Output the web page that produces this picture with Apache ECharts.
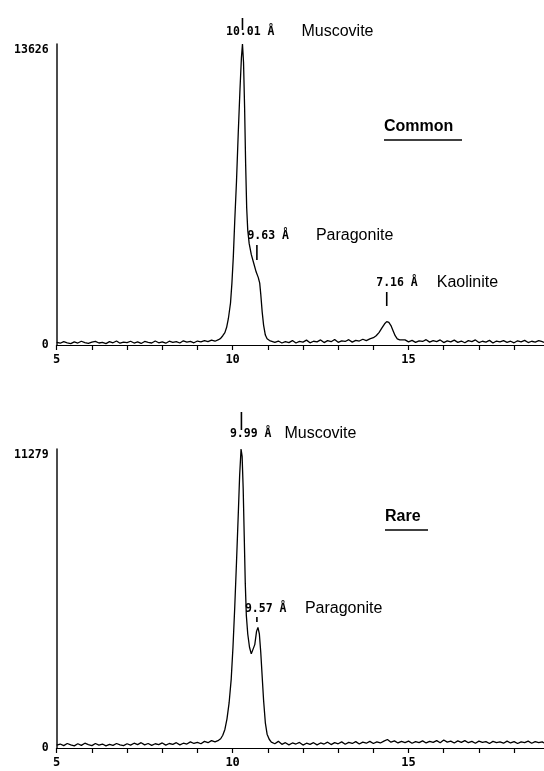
<!DOCTYPE html>
<html><head><meta charset="utf-8">
<script src="https://cdn.jsdelivr.net/npm/echarts@6/dist/echarts.min.js"></script>
<style>html,body{margin:0;padding:0;background:#fff}#c{width:544px;height:771px}</style>
</head><body><div id="c"></div>
<script>
// ---- data ----
const xLabelValues = [5, 10, 15];
const xMin = 5, xMax = 18.85;
const commonMax = 13626;
const rareMax = 11279;
const panelTitles = ['Common', 'Rare'];

// Common sample: [2theta, counts]
const commonTrace = [
[5.0,120],[5.1,80],[5.2,150],[5.3,100],[5.4,60],[5.5,140],[5.6,90],[5.7,170],[5.8,110],[5.9,70],
[6.0,130],[6.1,160],[6.2,90],[6.3,120],[6.4,60],[6.5,150],[6.6,100],[6.7,180],[6.8,80],[6.9,130],
[7.0,110],[7.1,170],[7.2,90],[7.3,140],[7.4,70],[7.5,160],[7.6,120],[7.7,90],[7.8,180],[7.9,100],
[8.0,140],[8.1,80],[8.2,170],[8.3,120],[8.4,150],[8.5,90],[8.6,190],[8.7,130],[8.8,160],[8.9,100],
[9.0,180],[9.1,140],[9.2,200],[9.3,150],[9.4,220],[9.5,170],[9.6,240],[9.66,300],[9.72,420],[9.78,560],
[9.83,800],[9.88,1200],[9.94,1900],[9.98,2800],[10.02,4000],[10.06,5600],[10.11,7400],[10.16,9600],[10.21,11600],[10.25,13000],
[10.28,13626],[10.31,12800],[10.34,10800],[10.37,8200],[10.40,6200],[10.43,5200],[10.47,4600],[10.53,4100],[10.60,3700],[10.67,3300],
[10.73,3050],[10.77,2800],[10.80,2300],[10.84,1500],[10.88,900],[10.93,450],[10.98,280],[11.05,200],[11.1,160],[11.2,120],
[11.3,180],[11.4,90],[11.5,150],[11.6,110],[11.7,200],[11.8,90],[11.9,160],[12.0,130],[12.1,220],[12.2,100],
[12.3,170],[12.4,140],[12.5,230],[12.6,110],[12.7,200],[12.8,150],[12.9,250],[13.0,120],[13.1,190],[13.2,160],
[13.3,240],[13.4,130],[13.5,210],[13.6,180],[13.7,260],[13.8,200],[13.9,280],[14.0,330],[14.08,420],[14.16,560],
[14.24,760],[14.32,960],[14.38,1060],[14.44,1020],[14.5,880],[14.56,650],[14.62,420],[14.68,280],[14.75,230],[14.8,170],
[14.9,230],[15.0,140],[15.1,210],[15.2,120],[15.3,190],[15.4,160],[15.5,240],[15.6,130],[15.7,200],[15.8,150],
[15.9,230],[16.0,110],[16.1,190],[16.2,140],[16.3,220],[16.4,120],[16.5,180],[16.6,100],[16.7,200],[16.8,150],
[16.9,230],[17.0,110],[17.1,170],[17.2,130],[17.3,210],[17.4,90],[17.5,180],[17.6,140],[17.7,200],[17.8,120],
[17.9,170],[18.0,100],[18.1,190],[18.2,140],[18.3,210],[18.4,110],[18.5,170],[18.6,130],[18.7,200],[18.8,150],[18.85,120]
];

// Rare sample: [2theta, counts]
const rareTrace = [
[5.0,110],[5.1,150],[5.2,90],[5.3,170],[5.4,120],[5.5,80],[5.6,160],[5.7,100],[5.8,180],[5.9,130],
[6.0,90],[6.1,170],[6.2,110],[6.3,150],[6.4,80],[6.5,140],[6.6,100],[6.7,170],[6.8,120],[6.9,90],
[7.0,160],[7.1,110],[7.2,180],[7.3,130],[7.4,200],[7.5,120],[7.6,170],[7.7,100],[7.8,160],[7.9,130],
[8.0,190],[8.1,110],[8.2,170],[8.3,140],[8.4,200],[8.5,120],[8.6,180],[8.7,150],[8.8,230],[8.9,170],
[9.0,210],[9.1,160],[9.2,250],[9.3,200],[9.4,280],[9.5,230],[9.6,290],[9.66,350],[9.72,480],[9.78,700],
[9.84,1100],[9.90,1700],[9.96,2600],[10.01,3800],[10.06,5300],[10.11,7000],[10.16,8800],[10.20,10300],[10.24,11279],[10.27,11000],
[10.30,9800],[10.33,8000],[10.36,6200],[10.39,5000],[10.43,4300],[10.48,3800],[10.53,3550],[10.58,3550],[10.63,3900],[10.68,4400],
[10.72,4550],[10.76,4300],[10.80,3600],[10.84,2700],[10.88,1800],[10.93,950],[10.98,520],[11.04,330],[11.1,220],[11.2,160],
[11.3,250],[11.4,140],[11.5,200],[11.6,120],[11.7,190],[11.8,150],[11.9,210],[12.0,110],[12.1,180],[12.2,140],
[12.3,200],[12.4,120],[12.5,190],[12.6,150],[12.7,220],[12.8,130],[12.9,200],[13.0,160],[13.1,230],[13.2,140],
[13.3,210],[13.4,170],[13.5,240],[13.6,150],[13.7,220],[13.8,180],[13.9,250],[14.0,170],[14.1,230],[14.2,190],
[14.3,260],[14.4,320],[14.5,220],[14.6,270],[14.7,190],[14.8,250],[14.9,200],[15.0,260],[15.1,180],[15.2,240],
[15.3,200],[15.4,270],[15.5,190],[15.6,250],[15.7,210],[15.8,280],[15.9,200],[16.0,300],[16.1,220],[16.2,260],
[16.3,190],[16.4,270],[16.5,210],[16.6,280],[16.7,200],[16.8,250],[16.9,180],[17.0,260],[17.1,210],[17.2,240],
[17.3,170],[17.4,250],[17.5,200],[17.6,230],[17.7,180],[17.8,260],[17.9,190],[18.0,240],[18.1,170],[18.2,230],
[18.3,200],[18.4,260],[18.5,180],[18.6,240],[18.7,200],[18.8,230],[18.85,190]
];

// Peak annotations
const peakPanel = [0, 0, 0, 1, 1];
const peakTheta = [10.28, 10.69, 14.38, 10.25, 10.69];
const peakDText = ['10.01 Å', '9.63 Å', '7.16 Å', '9.99 Å', '9.57 Å'];
const peakMineral = ['Muscovite', 'Paragonite', 'Kaolinite', 'Muscovite', 'Paragonite'];

// ---- layout (pixels) ----
const grids = [{left: 56.7, right: 0, top: 44, height: 301}, {left: 56.7, right: 0, top: 449, height: 299}];
const annLayout = [
  {ly: 32, dx: 16.5, mx: 59, t1: 18, t2: 30},
  {ly: 236, dx: 9.5, mx: 59, t1: 245, t2: 260},
  {ly: 283, dx: 10.5, mx: 50, t1: 292, t2: 306},
  {ly: 434, dx: 11.5, mx: 43, t1: 412, t2: 430},
  {ly: 609, dx: 12, mx: 48, t1: 617, t2: 622}
];
const titleLayout = [{x: 384, y: 127, ux1: 384, ux2: 462, uy: 140}, {x: 385, y: 517, ux1: 385, ux2: 428, uy: 530}];

const mono = '"DejaVu Sans Mono", monospace';
const sans = '"Liberation Sans", Arial, sans-serif';

function xAxisOpt(gi) {
  return {
    type: 'value', gridIndex: gi, min: xMin, max: xMax, interval: 1,
    axisLine: {lineStyle: {color: '#000', width: 1.2}},
    axisTick: {length: 5, lineStyle: {color: '#000', width: 1.2}},
    axisLabel: {
      color: '#000', fontFamily: mono, fontWeight: 'bold', fontSize: 12, margin: 9,
      showMaxLabel: false,
      formatter: v => xLabelValues.indexOf(v) >= 0 ? String(v) : ''
    },
    splitLine: {show: false}
  };
}
function yAxisOpt(gi, mx) {
  return {
    type: 'value', gridIndex: gi, min: 0, max: mx, interval: mx,
    axisLine: {show: true, lineStyle: {color: '#111', width: 1.5}},
    axisTick: {show: false},
    axisLabel: {color: '#000', fontFamily: mono, fontWeight: 'bold', fontSize: 11.5, margin: 8,
      verticalAlignMaxLabel: 'top', formatter: v => String(v)},
    splitLine: {show: false}
  };
}

const chart = echarts.init(document.getElementById('c'), null, {renderer: 'canvas'});
chart.setOption({
  animation: false,
  backgroundColor: '#fff',
  grid: grids,
  xAxis: [xAxisOpt(0), xAxisOpt(1)],
  yAxis: [yAxisOpt(0, commonMax), yAxisOpt(1, rareMax)],
  series: [
    {type: 'line', xAxisIndex: 0, yAxisIndex: 0, data: commonTrace, showSymbol: false, smooth: false,
     lineStyle: {color: '#000', width: 1.3}},
    {type: 'line', xAxisIndex: 1, yAxisIndex: 1, data: rareTrace, showSymbol: false, smooth: false,
     lineStyle: {color: '#000', width: 1.3}}
  ]
});

const g = [];
for (let i = 0; i < peakTheta.length; i++) {
  const gi = peakPanel[i];
  const px = chart.convertToPixel({gridIndex: gi}, [peakTheta[i], 0])[0];
  const L = annLayout[i];
  g.push({type: 'line', shape: {x1: px, y1: L.t1, x2: px, y2: L.t2}, style: {stroke: '#000', lineWidth: 1.6}});
  g.push({type: 'text', x: px - L.dx, y: L.ly, style: {text: peakDText[i], fill: '#000', font: 'bold 11.5px ' + mono, verticalAlign: 'middle', align: 'left'}});
  g.push({type: 'text', x: px + L.mx, y: L.ly, style: {text: peakMineral[i], fill: '#000', font: '16px ' + sans, verticalAlign: 'middle', align: 'left'}});
}
for (let k = 0; k < panelTitles.length; k++) {
  const T = titleLayout[k];
  g.push({type: 'text', x: T.x, y: T.y, style: {text: panelTitles[k], fill: '#000', font: 'bold 16px ' + sans, verticalAlign: 'middle', align: 'left'}});
  g.push({type: 'line', shape: {x1: T.ux1, y1: T.uy, x2: T.ux2, y2: T.uy}, style: {stroke: '#000', lineWidth: 1.5}});
}
chart.setOption({graphic: g});
</script></body></html>
